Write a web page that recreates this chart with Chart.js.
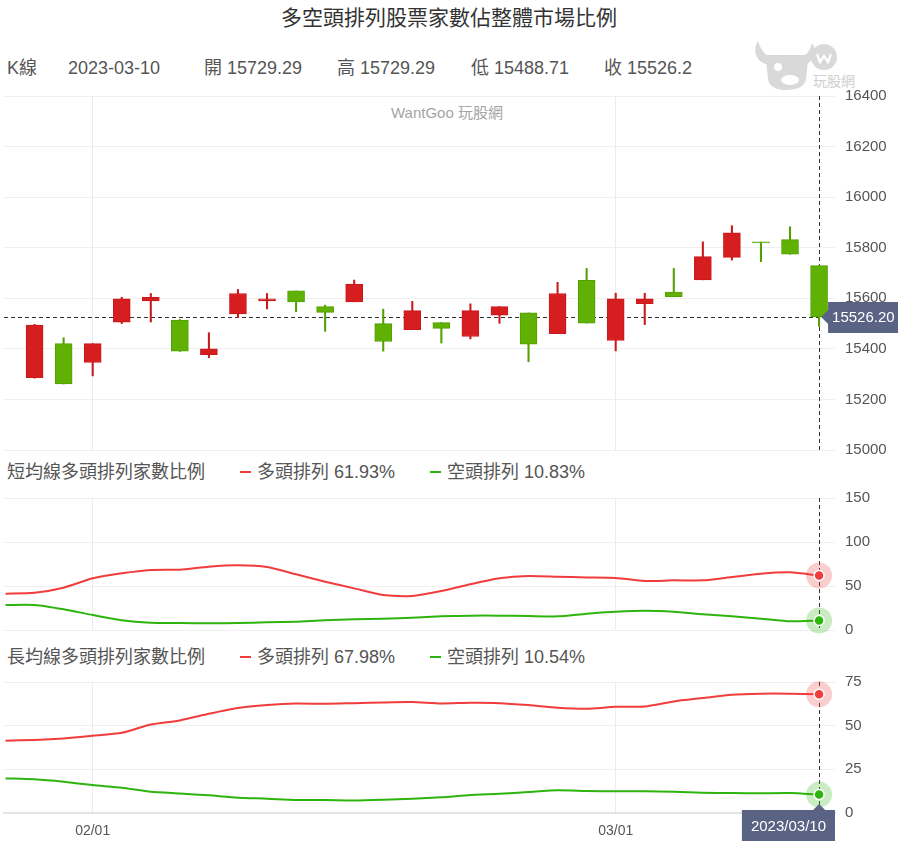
<!DOCTYPE html>
<html>
<head>
<meta charset="utf-8">
<script src="https://cdn.jsdelivr.net/npm/chart.js@4.4.1/dist/chart.umd.min.js"></script>
<style>
html,body{margin:0;padding:0;background:#fff;}
body{width:898px;height:842px;position:relative;overflow:hidden;font-family:"Liberation Sans","Noto Sans CJK TC",sans-serif;color:#555;}
.abs{position:absolute;white-space:nowrap;}
#title{left:0;width:898px;top:5px;text-align:center;font-size:21px;line-height:26px;color:#333;}
.hdr{top:56px;font-size:18px;line-height:24px;color:#555;}
.lg{font-size:18px;line-height:24px;color:#555;}
.dash{position:absolute;width:11px;height:2px;}
#wm{left:0;width:894px;text-align:center;top:104px;font-size:15px;line-height:18px;color:#a5a5a5;}
.cv{position:absolute;left:0;}
</style>
</head>
<body>
<div id="title" class="abs">多空頭排列股票家數佔整體市場比例</div>

<div class="abs hdr" style="left:7px">K線</div>
<div class="abs hdr" id="hDate" style="left:68px"></div>
<div class="abs hdr" id="hOpen" style="left:204px"></div>
<div class="abs hdr" id="hHigh" style="left:337px"></div>
<div class="abs hdr" id="hLow" style="left:471px"></div>
<div class="abs hdr" id="hClose" style="left:604px"></div>

<svg class="abs" style="left:750px;top:35px" width="125" height="60">
  <g fill="#d9d9d9">
    <path d="M8 6 C2 16 6 28 20 30 L24 22 C16 22 11 16 8 6 Z"/>
    <path d="M62 8 C68 18 64 28 52 30 L48 22 C56 22 60 16 62 8 Z"/>
    <path d="M18 20 L54 20 Q58 20 58 26 L56 44 Q54 55 36 55 Q20 55 18 44 L16 26 Q16 20 18 20 Z"/>
    <circle cx="74" cy="22" r="13"/>
  </g>
  <circle cx="28" cy="32" r="4" fill="#fff"/>
  <ellipse cx="40" cy="45" rx="9" ry="5" fill="#fff"/>
  <path d="M67 19 L70 27 L74 21 L78 27 L81 19" stroke="#fff" stroke-width="2.2" fill="none"/>
  <text x="63" y="51" font-size="14" fill="#cfcfcf" font-family="Noto Sans CJK TC">玩股網</text>
</svg>

<div id="wm" class="abs">WantGoo 玩股網</div>

<div class="abs lg" style="left:7px;top:460px">短均線多頭排列家數比例</div>
<div class="dash" id="d1" style="left:240px;top:471px"></div>
<div class="abs lg" id="l1a" style="left:257px;top:460px"></div>
<div class="dash" id="d2" style="left:430px;top:471px"></div>
<div class="abs lg" id="l1b" style="left:447px;top:460px"></div>

<div class="abs lg" style="left:7px;top:645px">長均線多頭排列家數比例</div>
<div class="dash" id="d3" style="left:240px;top:656px"></div>
<div class="abs lg" id="l2a" style="left:257px;top:645px"></div>
<div class="dash" id="d4" style="left:430px;top:656px"></div>
<div class="abs lg" id="l2b" style="left:447px;top:645px"></div>

<canvas id="c1" class="cv" width="898" height="392" style="top:77px"></canvas>
<canvas id="c2" class="cv" width="898" height="170" style="top:479px"></canvas>
<canvas id="c3" class="cv" width="898" height="180" style="top:663px"></canvas>

<script>
// ---------------- DATA ----------------
const dates = ['2023-01-17','2023-01-30','2023-01-31','2023-02-01','2023-02-02','2023-02-03','2023-02-06','2023-02-07','2023-02-08','2023-02-09','2023-02-10','2023-02-13','2023-02-14','2023-02-15','2023-02-16','2023-02-17','2023-02-20','2023-02-21','2023-02-22','2023-02-23','2023-02-24','2023-03-01','2023-03-02','2023-03-03','2023-03-06','2023-03-07','2023-03-08','2023-03-09','2023-03-10'];
const candleDates = dates.slice(1);
const openVals  = [15286,15421,15346,15506,15590,15514,15377,15538,15590,15629,15567,15586,15500,15476,15504,15449,15533,15542,15460,15671,15433,15579,15625,15673,15762,15822,15832,15729.29];
const highVals  = [15497,15444,15421,15604,15619,15516,15464,15635,15619,15629,15573,15672,15557,15588,15504,15578,15567,15542,15663,15718,15620,15620,15718,15823,15887,15822,15883,15729.29];
const lowVals   = [15284,15261,15293,15500,15506,15390,15365,15524,15558,15547,15469,15586,15391,15476,15423,15439,15501,15349,15460,15502,15392,15496,15606,15673,15751,15745,15774,15488.71];
const closeVals = [15494,15261,15421,15598,15604,15391,15400,15619,15598,15586,15544,15656,15429,15551,15481,15551,15567,15419,15619,15502,15598,15598,15606,15765,15859,15819,15774,15526.2];

const shortBull = [41.3,42.4,48.1,58.7,64.4,68.2,68.6,72,73.5,71.6,63.3,54.9,47.3,39.8,38.6,44.3,51.9,58.7,61.4,60.6,59.8,59.1,55.7,56.4,56.4,60.2,64,65.5,61.93];
const shortBear = [28.4,28.4,23.5,17,11,8.3,8,7.6,8,8.7,9.5,11,12.1,12.9,14,15.5,16.3,16.3,15.9,15.5,18.6,20.8,22,20.8,17.8,15.5,12.9,9.9,10.83];
const longBull  = [41.4,41.8,42.7,44.2,45.9,50.7,53,56.8,60.1,61.8,62.7,62.5,62.9,63.3,63.5,62.7,63.1,62.9,61.8,60.3,59.7,60.8,61,63.9,65.8,67.7,68.3,68.3,67.98];
const longBear  = [19.8,19.3,17.9,16,14.5,12.2,11.2,10.1,8.8,8.2,7.4,7.4,7.2,7.6,8.2,9,10.3,11,12,13,12.6,12.4,12.4,12.2,11.6,11.4,11.3,11.4,10.54];

const xTickDates = ['2023-02-01','2023-03-01'];
const priceTicks = [15000,15200,15400,15600,15800,16000,16200,16400];
const shortTicks = [0,50,100,150];
const longTicks  = [0,25,50,75];
const seriesNames = ['多頭排列','空頭排列'];

// ---------------- STYLE ----------------
const UP_FILL = '#d61d1f', UP_LINE = '#c8191c';
const DN_FILL = '#60b103', DN_LINE = '#51a000';
const RED = '#f03c3c', GREEN = '#2db40d';
const RED_A = 'rgba(240,60,60,0.25)', GREEN_A = 'rgba(45,180,13,0.25)';
const TAG = '#5b6384';
const X_MIN = -0.052, X_MAX = 28.548;
Chart.defaults.font.family = '"Liberation Sans","Noto Sans CJK TC",sans-serif';
Chart.defaults.color = '#555';

const LAST = dates.length - 1;
const lastC = closeVals.length - 1;
const xTickIdx = xTickDates.map(d => dates.indexOf(d));

// ---------------- TEXT ----------------
document.getElementById('hDate').textContent = dates[LAST];
document.getElementById('hOpen').textContent = '開 ' + openVals[lastC];
document.getElementById('hHigh').textContent = '高 ' + highVals[lastC];
document.getElementById('hLow').textContent = '低 ' + lowVals[lastC];
document.getElementById('hClose').textContent = '收 ' + closeVals[lastC];
document.getElementById('l1a').textContent = seriesNames[0] + ' ' + shortBull[LAST].toFixed(2) + '%';
document.getElementById('l1b').textContent = seriesNames[1] + ' ' + shortBear[LAST].toFixed(2) + '%';
document.getElementById('l2a').textContent = seriesNames[0] + ' ' + longBull[LAST].toFixed(2) + '%';
document.getElementById('l2b').textContent = seriesNames[1] + ' ' + longBear[LAST].toFixed(2) + '%';
['d1','d3'].forEach(id => document.getElementById(id).style.background = RED);
['d2','d4'].forEach(id => document.getElementById(id).style.background = GREEN);

// ---------------- SCALES ----------------
function xScale(showLabels) {
  const s = {
    type: 'linear', min: X_MIN, max: X_MAX, offset: false,
    afterBuildTicks: sc => { sc.ticks = xTickIdx.map(v => ({value: v})); },
    grid: { color: '#ececec', drawTicks: false, offset: false },
    border: { display: showLabels, color: '#e4e4e4', width: 2 },
    ticks: { display: showLabels, padding: 10, color: '#555', font: {size: 14}, maxRotation: 0, autoSkip: false,
      callback: v => dates[v] ? dates[v].slice(5).replace('-', '/') : '' }
  };
  if (showLabels) s.afterFit = sc => { sc.height = 30; };
  return s;
}
function yScale(arr) {
  return {
    type: 'linear', position: 'right', min: arr[0], max: arr[arr.length - 1], beginAtZero: false,
    afterBuildTicks: sc => { sc.ticks = arr.map(v => ({value: v})); },
    grid: { color: '#efefef', drawTicks: false },
    border: { display: false },
    ticks: { padding: 10, color: '#555', font: {size: 15}, callback: v => String(v) },
    afterFit: sc => { sc.width = 63; }
  };
}

function tagBoxLeft(ctx, tipX, y, left, right, text) {
  ctx.save();
  ctx.fillStyle = TAG;
  ctx.beginPath();
  ctx.moveTo(tipX, y);
  ctx.lineTo(left, y - 7);
  ctx.lineTo(left, y - 15);
  ctx.lineTo(right, y - 15);
  ctx.lineTo(right, y + 16);
  ctx.lineTo(left, y + 16);
  ctx.lineTo(left, y + 7);
  ctx.closePath();
  ctx.fill();
  ctx.fillStyle = '#fff';
  ctx.font = '15px "Liberation Sans","Noto Sans CJK TC",sans-serif';
  ctx.textBaseline = 'middle';
  ctx.textAlign = 'left';
  ctx.fillText(text, left + 4, y + 1);
  ctx.restore();
}

function crossPlugin(opts) {
  return {
    id: 'cross' + Math.random(),
    beforeDatasetsDraw(chart) {
      const {ctx, chartArea: ca, scales} = chart;
      const px = Math.round(scales.x.getPixelForValue(LAST)) + 0.5;
      ctx.save();
      ctx.strokeStyle = '#333';
      ctx.lineWidth = 1;
      ctx.setLineDash([4, 3]);
      ctx.beginPath();
      ctx.moveTo(px, ca.top);
      ctx.lineTo(px, ca.bottom);
      ctx.stroke();
      if (opts.hValue != null) {
        const py = Math.round(scales.y.getPixelForValue(opts.hValue)) + 0.5;
        ctx.beginPath();
        ctx.moveTo(ca.left, py);
        ctx.lineTo(px + 3, py);
        ctx.stroke();
      }
      ctx.restore();
    },
    afterDatasetsDraw(chart) {
      if (!opts.points) return;
      const ctx = chart.ctx;
      chart.data.datasets.forEach((ds, i) => {
        const meta = chart.getDatasetMeta(i);
        const el = meta.data[meta.data.length - 1];
        ctx.save();
        ctx.fillStyle = ds.haloColor;
        ctx.beginPath(); ctx.arc(el.x, el.y, 13, 0, Math.PI * 2); ctx.fill();
        ctx.fillStyle = ds.borderColor;
        ctx.strokeStyle = '#fff';
        ctx.lineWidth = 1.5;
        ctx.beginPath(); ctx.arc(el.x, el.y, 5, 0, Math.PI * 2); ctx.fill(); ctx.stroke();
        ctx.restore();
      });
    },
    afterDraw(chart) {
      const {ctx, chartArea: ca, scales} = chart;
      const px = scales.x.getPixelForValue(LAST);
      if (opts.hValue != null) {
        const py = scales.y.getPixelForValue(opts.hValue);
        tagBoxLeft(ctx, px + 2, py, px + 9, chart.width, opts.hValue.toFixed(2));
      }
      if (opts.dateTag) {
        const text = dates[LAST].replace(/-/g, '/');
        ctx.save();
        ctx.font = '15px "Liberation Sans","Noto Sans CJK TC",sans-serif';
        const w = ctx.measureText(text).width + 18;
        const right = Math.min(px + w / 2, ca.right);
        const left = right - w;
        const top = ca.bottom - 3, h = 31;
        ctx.fillStyle = TAG;
        ctx.beginPath();
        ctx.moveTo(left, top); ctx.lineTo(px - 6, top); ctx.lineTo(px, top - 6); ctx.lineTo(px + 6, top);
        ctx.lineTo(right, top); ctx.lineTo(right, top + h); ctx.lineTo(left, top + h); ctx.closePath();
        ctx.fill();
        ctx.fillStyle = '#fff';
        ctx.textBaseline = 'middle'; ctx.textAlign = 'center';
        ctx.fillText(text, (left + right) / 2, top + h / 2 + 1);
        ctx.restore();
      }
    }
  };
}

const baseOpts = (yArr, showX, padBottom) => ({
  responsive: false, animation: false, events: [],
  layout: { padding: { top: 10, bottom: padBottom, left: 4, right: 0 } },
  plugins: { legend: { display: false }, tooltip: { enabled: false } },
  scales: { x: xScale(showX), y: yScale(yArr) }
});

// ---------------- CANDLES ----------------
const candleX = candleDates.map(d => dates.indexOf(d));
const up = closeVals.map((c, i) => c >= openVals[i]);
new Chart(document.getElementById('c1'), {
  type: 'bar',
  data: {
    datasets: [
      {
        data: candleX.map((x, i) => ({x, y: [openVals[i], closeVals[i]]})),
        backgroundColor: up.map(u => u ? UP_FILL : DN_FILL),
        borderColor: up.map(u => u ? UP_LINE : DN_LINE),
        borderWidth: 1, borderSkipped: false, barThickness: 17, grouped: false, minBarLength: 1
      },
      {
        data: candleX.map((x, i) => ({x, y: [lowVals[i], highVals[i]]})),
        backgroundColor: up.map(u => u ? UP_LINE : DN_LINE),
        borderWidth: 0, barThickness: 1.4, grouped: false
      }
    ]
  },
  options: baseOpts(priceTicks, false, 10),
  plugins: [crossPlugin({hValue: closeVals[lastC]})]
});

// ---------------- LINES ----------------
function lineDs(vals, color, halo) {
  return {
    type: 'line',
    data: vals.map((v, i) => ({x: i, y: v})),
    borderColor: color, haloColor: halo, borderWidth: 2, pointRadius: 0, tension: 0.2, fill: false
  };
}
new Chart(document.getElementById('c2'), {
  type: 'line',
  data: { datasets: [lineDs(shortBull, RED, RED_A), lineDs(shortBear, GREEN, GREEN_A)] },
  options: baseOpts(shortTicks, false, 10),
  plugins: [crossPlugin({points: true})]
});
new Chart(document.getElementById('c3'), {
  type: 'line',
  data: { datasets: [lineDs(longBull, RED, RED_A), lineDs(longBear, GREEN, GREEN_A)] },
  options: baseOpts(longTicks, true, 0),
  plugins: [crossPlugin({points: true, dateTag: true})]
});
</script>
</body>
</html>
